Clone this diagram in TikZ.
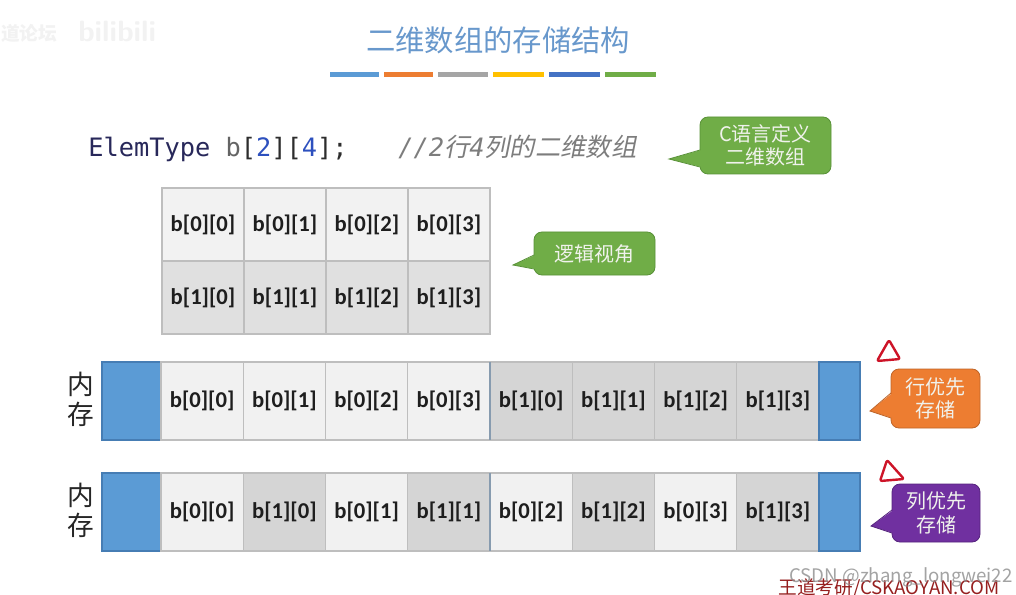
\documentclass[tikz,border=0pt]{standalone}
\usepackage{fontspec}
\setmainfont{Carlito}
\newfontfamily\cjk{Noto Sans CJK SC}
\newfontfamily\cjkit[FakeSlant=0.2]{Noto Sans CJK SC}
\newfontfamily\codefont{DejaVu Sans Mono}
\newfontfamily\cellfont{Carlito}
\usetikzlibrary{calc}
\definecolor{titleblue}{RGB}{104,152,204}
\definecolor{barblue}{RGB}{91,155,213}
\definecolor{barorange}{RGB}{237,125,49}
\definecolor{bargray}{RGB}{165,165,165}
\definecolor{baryellow}{RGB}{255,192,0}
\definecolor{bardblue}{RGB}{68,114,196}
\definecolor{bargreen}{RGB}{112,173,71}
\definecolor{codenavy}{RGB}{40,40,90}
\definecolor{codegray}{RGB}{100,100,100}
\definecolor{codeblue}{RGB}{45,80,190}
\definecolor{codedark}{RGB}{45,45,45}
\definecolor{commentgray}{RGB}{125,125,125}
\definecolor{cellborder}{RGB}{190,190,190}
\definecolor{celltext}{RGB}{30,30,30}
\definecolor{gridlight}{RGB}{242,242,242}
\definecolor{griddark}{RGB}{224,224,224}
\definecolor{lightcell}{RGB}{241,241,241}
\definecolor{darkcell}{RGB}{213,213,213}
\definecolor{memblue}{RGB}{91,155,213}
\definecolor{blueborder}{RGB}{70,125,180}
\definecolor{sepblue}{RGB}{135,155,175}
\definecolor{cgreen}{RGB}{112,173,71}
\definecolor{cgreenb}{RGB}{88,145,55}
\definecolor{corange}{RGB}{237,125,49}
\definecolor{corangeb}{RGB}{190,100,40}
\definecolor{cpurple}{RGB}{112,48,160}
\definecolor{cpurpleb}{RGB}{85,35,125}
\definecolor{bubbletext}{RGB}{240,242,236}
\definecolor{markred}{RGB}{205,20,40}
\definecolor{wdred}{RGB}{150,30,30}
\begin{document}
\begin{tikzpicture}[x=0.75pt,y=-0.75pt,
  cell/.style={draw=cellborder, line width=1.1pt, minimum width=61.5pt, minimum height=54.75pt,
    inner sep=0pt, outer sep=0pt, anchor=north west,
    font=\cellfont\bfseries\fontsize{17}{20}\selectfont, text=celltext},
  memcell/.style={cell, minimum width=61.7pt, minimum height=58.5pt},
  blueblk/.style={draw=blueborder, fill=memblue, line width=0.8pt, minimum height=58.5pt,
    inner sep=0pt, outer sep=0pt, anchor=north west},
  bubble/.style={rounded corners=6pt, inner sep=0pt, outer sep=0pt, align=center,
    font=\cjk\fontsize{15}{18.5}\selectfont, text=bubbletext, line width=0.6pt},
  memlabel/.style={align=center, font=\cjk\fontsize{20}{22.5}\selectfont, text=black!85},
  redmark/.style={draw=markred, line width=1.8pt, line join=round, rounded corners=1.5pt}
]
\useasboundingbox (0,0) rectangle (1016,595);
\fill[white] (0,0) rectangle (1016,595);

% faint watermark top-left
\node[anchor=west, inner sep=0pt, text=black!5, font=\cjk\bfseries\fontsize{14}{16}\selectfont] (wm1) at (1,33) {道论坛};
\node[anchor=west, inner sep=0pt, text=black!5, font=\sffamily\bfseries\fontsize{22}{24}\selectfont] (wm2) at (78,31) {bilibili};

% title
\node[text=titleblue, font=\cjk\fontsize{22}{26}\selectfont] (title) at (498,40) {二维数组的存储结构};
\fill[barblue]   (330,72) rectangle (379,77);
\fill[barorange] (384,72) rectangle (433,77);
\fill[bargray]   (438,72) rectangle (488,77);
\fill[baryellow] (493,72) rectangle (544,77);
\fill[bardblue]  (549,72) rectangle (600,77);
\fill[bargreen]  (605,72) rectangle (656,77);

% code line
\node[anchor=base west, inner sep=0pt, font=\codefont\fontsize{19}{22}\selectfont] (code) at (88,157)
  {\textcolor{codenavy}{ElemType} \textcolor{codegray}{b}\textcolor{codedark}{[}\textcolor{codeblue}{2}\textcolor{codedark}{][}\textcolor{codeblue}{4}\textcolor{codedark}{];}};
\node[anchor=base west, inner sep=0pt, text=commentgray, font=\cjkit\fontsize{19}{22}\selectfont] (comment) at (398,157)
  {{\codefont\itshape //2}行{\codefont\itshape 4}列的二维数组};

% callout: C language definition
\node[bubble, fill=cgreen, draw=cgreenb, minimum width=98.25pt, minimum height=42.75pt] (c1) at (765.5,145.5) {C语言定义\\[-1pt]二维数组};
\coordinate (c1tip) at (669,159);
\fill[cgreen] ($(c1.west)+(1.5,4.5)$) -- (c1tip) -- ($(c1.west)+(1.5,21.5)$) -- cycle;
\draw[cgreenb, line width=0.6pt] ($(c1.west)+(0,4.5)$) -- (c1tip) -- ($(c1.west)+(0,21.5)$);

% logical grid
\foreach \r/\col in {0/gridlight,1/griddark}
  \foreach \c in {0,...,3}
    \node[cell, fill=\col] (g\r\c) at ({162+82*\c},{188+73*\r}) {b[\r][\c]};

% callout: logical view
\node[bubble, fill=cgreen, draw=cgreenb, minimum width=90.75pt, minimum height=32.25pt] (c2) at (594.5,253.5) {逻辑视角};
\coordinate (c2tip) at (513,265);
\fill[cgreen] ($(c2.west)+(1.5,1.5)$) -- (c2tip) -- ($(c2.west)+(1.5,15.5)$) -- cycle;
\draw[cgreenb, line width=0.6pt] ($(c2.west)+(0,1.5)$) -- (c2tip) -- ($(c2.west)+(0,15.5)$);

% memory row 1 (row-major)
\node[memlabel] (mem1) at (81,399) {内\\存};
\node[blueblk, minimum width=44.25pt] (ra0) at (102,362) {};
\foreach \r/\c/\col [count=\k] in {0/0/lightcell,0/1/lightcell,0/2/lightcell,0/3/lightcell,1/0/darkcell,1/1/darkcell,1/2/darkcell,1/3/darkcell}
  \node[memcell, fill=\col] (ra\k) at ({161+82.25*(\k-1)},362) {b[\r][\c]};
\node[blueblk, minimum width=30.75pt] (ra9) at (819,362) {};
\draw[sepblue, line width=1.1pt] (ra4.north east) -- (ra4.south east);

% memory row 2 (column-major)
\node[memlabel] (mem2) at (81,510) {内\\存};
\node[blueblk, minimum width=44.25pt] (rb0) at (102,473) {};
\foreach \r/\c/\col [count=\k] in {0/0/lightcell,1/0/darkcell,0/1/lightcell,1/1/darkcell,0/2/lightcell,1/2/darkcell,0/3/lightcell,1/3/darkcell}
  \node[memcell, fill=\col] (rb\k) at ({161+82.25*(\k-1)},473) {b[\r][\c]};
\node[blueblk, minimum width=30.75pt] (rb9) at (819,473) {};
\draw[sepblue, line width=1.1pt] (rb4.north east) -- (rb4.south east);

% red hand-drawn triangles
\draw[redmark] (889,340) -- (877,361) -- (900,359) -- cycle;
\draw[redmark] (887,460) -- (880,481) -- (904,479) -- cycle;

% callout: row-major
\node[bubble, fill=corange, draw=corangeb, minimum width=66.75pt, minimum height=44.25pt, font=\cjk\fontsize{15}{17.5}\selectfont] (c3) at (935.5,398.5) {行优先\\存储};
\coordinate (c3tip) at (870,411);
\fill[corange] ($(c3.west)+(1.5,-5.5)$) -- (c3tip) -- ($(c3.west)+(1.5,19.5)$) -- cycle;
\draw[corangeb, line width=0.6pt] ($(c3.west)+(0,-5.5)$) -- (c3tip) -- ($(c3.west)+(0,19.5)$);

% callout: column-major
\node[bubble, fill=cpurple, draw=cpurpleb, minimum width=66pt, minimum height=43.5pt, font=\cjk\fontsize{15}{17.5}\selectfont] (c4) at (936,513) {列优先\\存储};
\coordinate (c4tip) at (871,526);
\fill[cpurple] ($(c4.west)+(1.5,-3)$) -- (c4tip) -- ($(c4.west)+(1.5,20)$) -- cycle;
\draw[cpurpleb, line width=0.6pt] ($(c4.west)+(0,-3)$) -- (c4tip) -- ($(c4.west)+(0,20)$);

% bottom-right marks
\node[text=wdred, font=\cjk\fontsize{14}{16}\selectfont, inner sep=0pt] (wd) at (889,588) {王道考研/CSKAOYAN.COM};
\node[text=black!45, opacity=0.8, font=\cjk\fontsize{14}{16}\selectfont, inner sep=0pt] (csdn) at (901,577) {CSDN @zhang\_longwei22};
\end{tikzpicture}
\end{document}
